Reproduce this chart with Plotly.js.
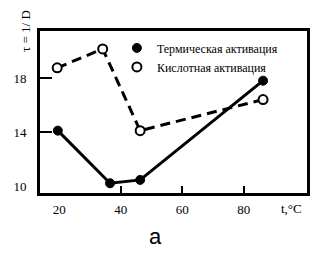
<!DOCTYPE html>
<html><head><meta charset="utf-8">
<script src="https://cdn.plot.ly/plotly-3.0.1.min.js"></script>
<style>html,body{margin:0;padding:0;background:#fff;}#chart{width:319px;height:253px;}</style>
</head><body><div id="chart"></div>
<script>
var thermalT = [19.5, 36.5, 46.3, 86.3];
var thermalTau = [14.1, 10.2, 10.45, 17.8];
var acidT = [19.3, 34.1, 46.3, 86.3];
var acidTau = [18.75, 20.15, 14.1, 16.4];
var seriesNames = ["Термическая активация", "Кислотная активация"];
var xTickVals = [20, 40, 60, 80];
var yTickVals = [10, 14, 18];
var xInnerTicks = [40, 60, 80];
var yInnerTicks = [14, 18];

var serif = "'Times New Roman', 'Liberation Serif', serif";
var traces = [
  {x: thermalT, y: thermalTau, mode: "lines", line: {color: "#000", width: 3}, showlegend: false, hoverinfo: "skip"},
  {x: acidT, y: acidTau, mode: "lines", line: {color: "#000", width: 3, dash: "10px,6px"}, showlegend: false, hoverinfo: "skip"},
  {x: thermalT, y: thermalTau, mode: "markers", name: seriesNames[0], marker: {color: "#000", size: 9, symbol: "circle", line: {color: "#000", width: 1}}},
  {x: acidT, y: acidTau, mode: "markers", name: seriesNames[1], marker: {color: "#fff", size: 9, symbol: "circle", line: {color: "#000", width: 2}}},
  {x: [null], y: [null], xaxis: "x2", yaxis: "y2", showlegend: false, hoverinfo: "skip"}
];
var xr = [13.7, 100.6], yr = [9.48, 21.48];
var layout = {
  width: 319, height: 253,
  margin: {l: 40, r: 12, t: 31, b: 60},
  paper_bgcolor: "#fff", plot_bgcolor: "#fff",
  font: {family: serif, size: 12, color: "#000"},
  showlegend: true,
  legend: {x: 0.288, y: 0.985, xanchor: "left", yanchor: "top", bgcolor: "rgba(0,0,0,0)", font: {family: serif, size: 12, color: "#000"}, itemwidth: 30, tracegroupgap: 0},
  xaxis: {range: xr, tickvals: xTickVals, ticks: "", showgrid: false, zeroline: false, showline: true, linecolor: "#000", linewidth: 3, mirror: true, ticklabelstandoff: 2, tickfont: {family: serif, size: 13, color: "#000"}},
  yaxis: {range: yr, tickvals: yTickVals, ticks: "", showgrid: false, zeroline: false, showline: true, linecolor: "#000", linewidth: 3, mirror: true, ticklabelstandoff: 8, tickfont: {family: serif, size: 13, color: "#000"}},
  xaxis2: {range: xr, overlaying: "x", anchor: "y2", side: "bottom", tickvals: xInnerTicks, ticks: "inside", ticklen: 7, tickwidth: 2, tickcolor: "#000", showticklabels: false, showgrid: false, zeroline: false, showline: false},
  yaxis2: {range: yr, overlaying: "y", anchor: "x2", side: "left", tickvals: yInnerTicks, ticks: "inside", ticklen: 12, tickwidth: 2, tickcolor: "#000", showticklabels: false, showgrid: false, zeroline: false, showline: false},
  annotations: [
    {text: "τ = 1/ D", xref: "paper", yref: "paper", x: (25-40)/267, y: (193-31)/162, xanchor: "center", yanchor: "middle", textangle: -90, showarrow: false, font: {family: serif, size: 13, color: "#000"}},
    {text: "t,°C", xref: "paper", yref: "paper", x: (291-40)/267, y: -(208-193)/162, xanchor: "center", yanchor: "middle", showarrow: false, font: {family: serif, size: 13, color: "#000"}},
    {text: "a", xref: "paper", yref: "paper", x: (155-40)/267, y: -(236-193)/162, xanchor: "center", yanchor: "middle", showarrow: false, font: {family: "'Liberation Sans', Arial, sans-serif", size: 22, color: "#000"}}
  ]
};
Plotly.newPlot("chart", traces, layout, {staticPlot: true, displayModeBar: false});
</script></body></html>
